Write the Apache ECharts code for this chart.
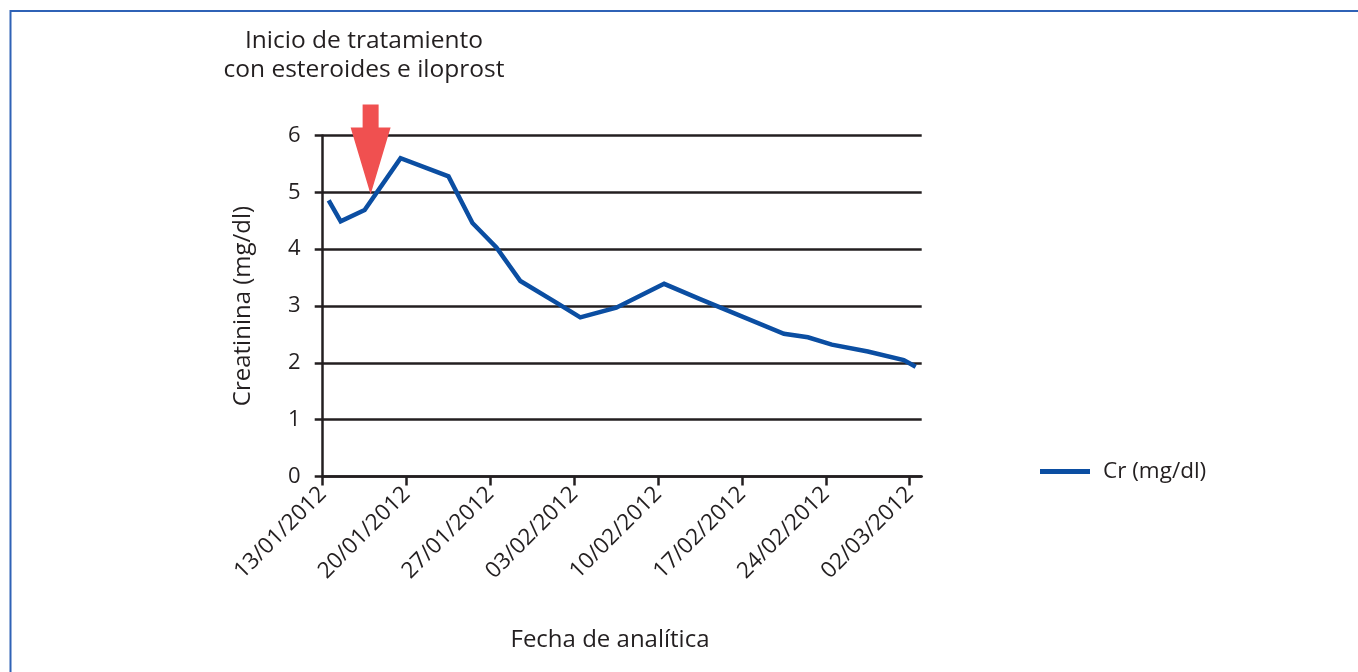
<!DOCTYPE html>
<html>
<head>
<meta charset="utf-8">
<script src="https://cdn.jsdelivr.net/npm/echarts@6/dist/echarts.min.js"></script>
<style>
html,body{margin:0;padding:0;background:#fff;}
#c{width:1358px;height:672px;}
</style>
</head>
<body>
<div id="c"></div>
<script>
// ---- data ----
var startDate = '2012-01-13';
var dates = ['2012-01-13','2012-01-14','2012-01-16','2012-01-19','2012-01-23','2012-01-25','2012-01-27','2012-01-29','2012-02-01','2012-02-03','2012-02-06','2012-02-10','2012-02-13','2012-02-20','2012-02-22','2012-02-24','2012-02-27','2012-03-01','2012-03-02'];
var crValues = [4.86,4.49,4.69,5.60,5.28,4.46,4.03,3.44,3.06,2.80,2.97,3.39,3.12,2.51,2.45,2.32,2.20,2.05,1.93];
var tickLabels = ['13/01/2012','20/01/2012','27/01/2012','03/02/2012','10/02/2012','17/02/2012','24/02/2012','02/03/2012'];
var seriesName = 'Cr (mg/dl)';
var annotationDate = '2012-01-17';
var annotationValue = 4.96;
var annotationText = 'Inicio de tratamiento\ncon esteroides e iloprost';
var yTitle = 'Creatinina (mg/dl)';
var xTitle = 'Fecha de analítica';

function dayIndex(iso){
  var p = iso.split('-'), s = startDate.split('-');
  return (Date.UTC(+p[0], +p[1]-1, +p[2]) - Date.UTC(+s[0], +s[1]-1, +s[2])) / 86400000;
}
var lineData = dates.map(function(d, i){ return [dayIndex(d) + 0.5, crValues[i]]; });
var tickDays = tickLabels.map(function(_, i){ return i * 7; });

var FONT = '"Open Sans", "Noto Sans", sans-serif';
var TXT = '#231f20';

var chart = echarts.init(document.getElementById('c'), null, {renderer: 'canvas'});
chart.setOption({
  animation: false,
  backgroundColor: '#fff',
  grid: {left: 322.7, right: 436.3, top: 135.5, bottom: 195.5, containLabel: false},
  legend: {
    left: 1040, top: 460, padding: 0,
    icon: 'rect', itemWidth: 50, itemHeight: 5,
    data: [seriesName],
    textStyle: {fontFamily: FONT, fontSize: 22.5, color: TXT, padding: [0,0,0,8]}
  },
  xAxis: {
    type: 'value', min: 0, max: 50,
    axisLine: {show: true, onZero: false, lineStyle: {color: TXT, width: 2.5}},
    axisTick: {show: true, length: 9, inside: false, customValues: tickDays, lineStyle: {color: TXT, width: 2.5}},
    splitLine: {show: false},
    axisLabel: {
      customValues: tickDays, rotate: 45, margin: 14,
      fontFamily: FONT, fontSize: 22.5, color: TXT,
      formatter: function(v){ var i = Math.round(v / 7); return tickLabels[i] || ''; }
    }
  },
  yAxis: {
    type: 'value', min: 0, max: 6, interval: 1,
    name: yTitle, nameLocation: 'middle', nameGap: 68,
    nameTextStyle: {fontFamily: FONT, fontSize: 24, color: TXT},
    axisLine: {show: true, lineStyle: {color: TXT, width: 2.5}},
    axisTick: {show: true, length: 8, inside: false, lineStyle: {color: TXT, width: 2.5}},
    splitLine: {show: true, lineStyle: {color: TXT, width: 2.5}},
    axisLabel: {margin: 22, fontFamily: FONT, fontSize: 22, color: TXT}
  },
  series: [{
    name: seriesName, type: 'line', data: lineData,
    showSymbol: false, symbol: 'none',
    lineStyle: {color: '#0b4ea2', width: 4.5, join: 'miter'},
    itemStyle: {color: '#0b4ea2'},
    z: 3,
    markPoint: {
      silent: true,
      symbol: 'path://M12,0 L28,0 L28,23 L40,23 L20,90 L0,23 L12,23 Z',
      symbolSize: [40, 90],
      symbolKeepAspect: false,
      symbolOffset: [0, -45],
      itemStyle: {color: '#f05050'},
      label: {show: false},
      data: [{coord: [dayIndex(annotationDate), annotationValue]}]
    }
  }],
  graphic: [
    {type: 'polyline', shape: {points: [[10.5, 672], [10.5, 11], [1358, 11]]}, style: {stroke: '#2f62b6', lineWidth: 2, fill: null}},
    {type: 'text', x: 364, y: 27, style: {text: annotationText, fontFamily: FONT, fontSize: 24.5, lineHeight: 29, fill: TXT, align: 'center', verticalAlign: 'top'}},
    {type: 'text', x: 610, y: 640, style: {text: xTitle, fontFamily: FONT, fontSize: 24, fill: TXT, align: 'center', verticalAlign: 'middle'}}
  ]
});
</script>
</body>
</html>
